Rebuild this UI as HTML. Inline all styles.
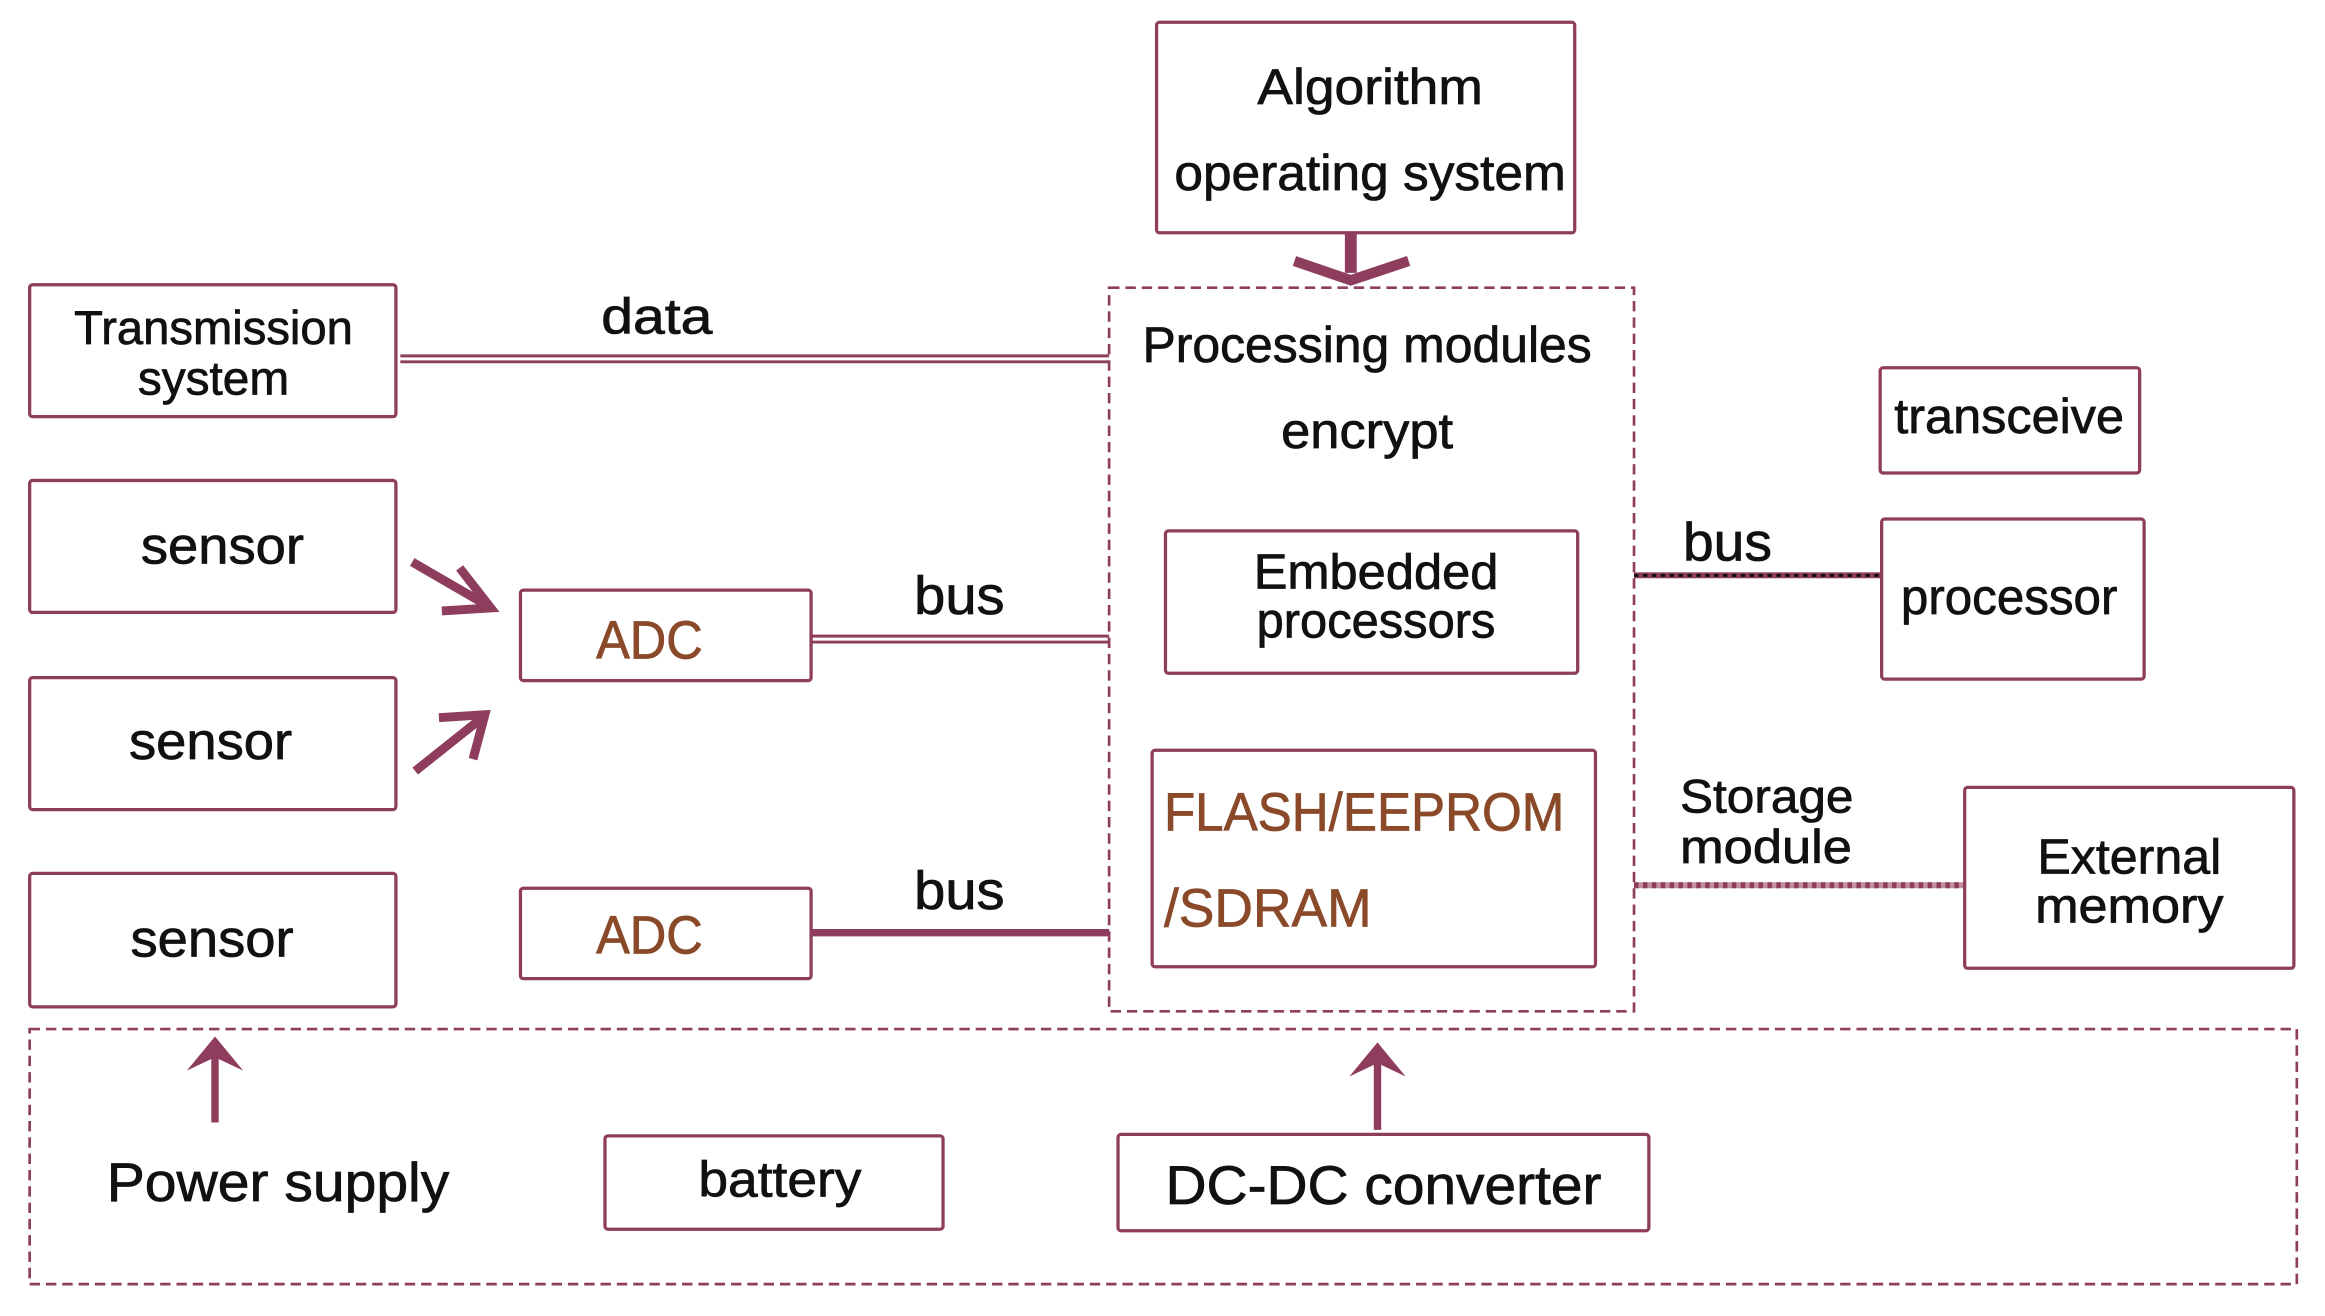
<!DOCTYPE html>
<html><head><meta charset="utf-8"><style>
html,body{margin:0;padding:0;background:#fff}
svg{display:block}
text{font-family:"Liberation Sans Narrow","Liberation Sans",sans-serif;fill:#111;stroke:#111;stroke-width:0.5}
.b{fill:#fff;stroke:#8e3d5c;stroke-width:2.2}
.br{fill:#8a4a2a;stroke:#8a4a2a}
</style></head><body>
<svg width="2325" height="1316" viewBox="0 0 1568 887.5" preserveAspectRatio="none" xmlns="http://www.w3.org/2000/svg">
<!-- Algorithm -->
<rect class="b" x="780" y="15" width="282" height="142" rx="2"/>
<text x="924" y="70" font-size="34" text-anchor="middle" textLength="152" lengthAdjust="spacingAndGlyphs">Algorithm</text>
<text x="924" y="128" font-size="34" text-anchor="middle" textLength="264" lengthAdjust="spacingAndGlyphs">operating system</text>
<line x1="911" y1="157" x2="911" y2="184" stroke="#8e3d5c" stroke-width="8"/>
<path d="M873,176 L911,189 L950,176" fill="none" stroke="#8e3d5c" stroke-width="7"/>
<!-- Processing -->
<rect x="748" y="194" width="354" height="488" fill="none" stroke="#8e3d5c" stroke-width="1.8" stroke-dasharray="7,4"/>
<text x="922" y="244" font-size="34" text-anchor="middle" textLength="303" lengthAdjust="spacingAndGlyphs">Processing modules</text>
<text x="922" y="302" font-size="34" text-anchor="middle" textLength="116" lengthAdjust="spacingAndGlyphs">encrypt</text>
<rect class="b" x="786" y="358" width="278" height="96" rx="2"/>
<text x="928" y="397" font-size="33" text-anchor="middle" textLength="165" lengthAdjust="spacingAndGlyphs">Embedded</text>
<text x="928" y="430" font-size="33" text-anchor="middle" textLength="161" lengthAdjust="spacingAndGlyphs">processors</text>
<rect class="b" x="777" y="506" width="299" height="146" rx="2"/>
<text class="br" x="785" y="560" font-size="36" textLength="270" lengthAdjust="spacingAndGlyphs">FLASH/EEPROM</text>
<text class="br" x="785" y="625" font-size="36" textLength="140" lengthAdjust="spacingAndGlyphs">/SDRAM</text>
<!-- Transmission -->
<rect class="b" x="20" y="192" width="247" height="89" rx="2"/>
<text x="144" y="232" font-size="32" text-anchor="middle" textLength="188" lengthAdjust="spacingAndGlyphs">Transmission</text>
<text x="144" y="266" font-size="32" text-anchor="middle" textLength="102" lengthAdjust="spacingAndGlyphs">system</text>
<line x1="270" y1="240" x2="748" y2="240" stroke="#8e3d5c" stroke-width="2"/>
<line x1="270" y1="244" x2="748" y2="244" stroke="#8e3d5c" stroke-width="2"/>
<text x="443" y="225" font-size="34" text-anchor="middle" textLength="75" lengthAdjust="spacingAndGlyphs">data</text>
<!-- sensors -->
<rect class="b" x="20" y="324" width="247" height="89" rx="2"/>
<text x="150" y="380" font-size="35" text-anchor="middle" textLength="110" lengthAdjust="spacingAndGlyphs">sensor</text>
<rect class="b" x="20" y="457" width="247" height="89" rx="2"/>
<text x="142" y="512" font-size="35" text-anchor="middle" textLength="110" lengthAdjust="spacingAndGlyphs">sensor</text>
<rect class="b" x="20" y="589" width="247" height="90" rx="2"/>
<text x="143" y="645" font-size="35" text-anchor="middle" textLength="110" lengthAdjust="spacingAndGlyphs">sensor</text>
<line x1="278" y1="379" x2="328" y2="408" stroke="#8e3d5c" stroke-width="6"/>
<path d="M310,383 L331,410 L298,412" fill="none" stroke="#8e3d5c" stroke-width="6"/>
<line x1="280" y1="520" x2="324" y2="485" stroke="#8e3d5c" stroke-width="6"/>
<path d="M296,484 L327,482 L319,512" fill="none" stroke="#8e3d5c" stroke-width="6"/>
<!-- ADC -->
<rect class="b" x="351" y="398" width="196" height="61" rx="2"/>
<text class="br" x="438" y="444" font-size="36" text-anchor="middle" textLength="72" lengthAdjust="spacingAndGlyphs">ADC</text>
<rect class="b" x="351" y="599" width="196" height="61" rx="2"/>
<text class="br" x="438" y="643" font-size="36" text-anchor="middle" textLength="72" lengthAdjust="spacingAndGlyphs">ADC</text>
<line x1="547" y1="429" x2="748" y2="429" stroke="#8e3d5c" stroke-width="2"/>
<line x1="547" y1="433" x2="748" y2="433" stroke="#8e3d5c" stroke-width="2"/>
<text x="647" y="414" font-size="36" text-anchor="middle" textLength="61" lengthAdjust="spacingAndGlyphs">bus</text>
<line x1="547" y1="629" x2="748" y2="629" stroke="#8e3d5c" stroke-width="5"/>
<text x="647" y="613" font-size="36" text-anchor="middle" textLength="61" lengthAdjust="spacingAndGlyphs">bus</text>
<!-- right -->
<rect class="b" x="1268" y="248" width="175" height="71" rx="2"/>
<text x="1355" y="292" font-size="33" text-anchor="middle" textLength="155" lengthAdjust="spacingAndGlyphs">transceive</text>
<rect class="b" x="1269" y="350" width="177" height="108" rx="2"/>
<text x="1355" y="414" font-size="34" text-anchor="middle" textLength="146" lengthAdjust="spacingAndGlyphs">processor</text>
<line x1="1102" y1="388" x2="1268" y2="388" stroke="#8e3d5c" stroke-width="4"/>
<line x1="1102" y1="388" x2="1268" y2="388" stroke="#111" stroke-width="2" stroke-dasharray="3,3"/>
<text x="1165" y="378" font-size="36" text-anchor="middle" textLength="60" lengthAdjust="spacingAndGlyphs">bus</text>
<text x="1133" y="548" font-size="32" textLength="117" lengthAdjust="spacingAndGlyphs">Storage</text>
<text x="1133" y="582" font-size="32" textLength="116" lengthAdjust="spacingAndGlyphs">module</text>
<line x1="1102" y1="597" x2="1327" y2="597" stroke="#c08fa2" stroke-width="4"/>
<line x1="1102" y1="597" x2="1327" y2="597" stroke="#8e3d5c" stroke-width="4" stroke-dasharray="3,3"/>
<rect class="b" x="1325" y="531" width="222" height="122" rx="2"/>
<text x="1436" y="589" font-size="33" text-anchor="middle" textLength="124" lengthAdjust="spacingAndGlyphs">External</text>
<text x="1436" y="622" font-size="33" text-anchor="middle" textLength="127" lengthAdjust="spacingAndGlyphs">memory</text>
<!-- power -->
<rect x="20" y="694" width="1529" height="172" fill="none" stroke="#8e3d5c" stroke-width="1.8" stroke-dasharray="7,4"/>
<line x1="145" y1="757" x2="145" y2="712" stroke="#8e3d5c" stroke-width="5"/>
<path d="M126,722 L145,699 L164,722 L145,713 z" fill="#8e3d5c"/>
<line x1="929" y1="762" x2="929" y2="716" stroke="#8e3d5c" stroke-width="5"/>
<path d="M910,726 L929,703 L948,726 L929,717 z" fill="#8e3d5c"/>
<text x="72" y="810" font-size="37" textLength="231" lengthAdjust="spacingAndGlyphs">Power supply</text>
<rect class="b" x="408" y="766" width="228" height="63" rx="2"/>
<text x="526" y="807" font-size="34" text-anchor="middle" textLength="110" lengthAdjust="spacingAndGlyphs">battery</text>
<rect class="b" x="754" y="765" width="358" height="65" rx="2"/>
<text x="786" y="812" font-size="37" textLength="294" lengthAdjust="spacingAndGlyphs">DC-DC  converter</text>
</svg>
</body></html>
